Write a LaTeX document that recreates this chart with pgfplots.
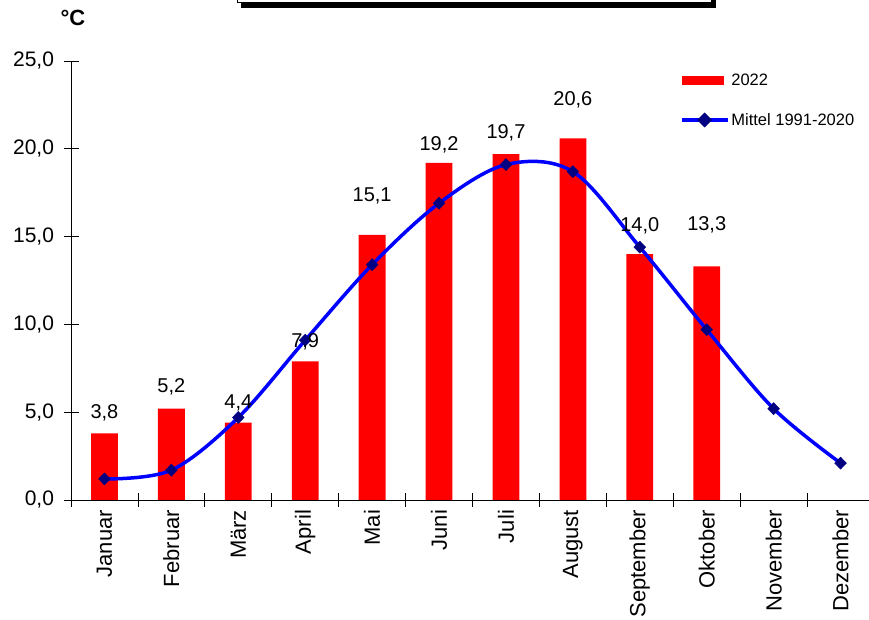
\documentclass[border=0pt]{standalone}
\usepackage{pgfplots}
\pgfplotsset{compat=1.18}
\usepackage{pgfplotstable}
\usepackage{fontspec}
\setmainfont{Liberation Sans}

\definecolor{barred}{RGB}{255,0,0}
\definecolor{lineblue}{RGB}{0,0,255}
\definecolor{markblue}{RGB}{0,0,128}

% month index, temperature 2022, position of the value label
\pgfplotstableread{
x  v     ly
0  3.8   4.95
1  5.2   6.44
2  4.4   5.52
3  7.9   9.0
4  15.1  17.3
5  19.2  20.2
6  19.7  20.9
7  20.6  22.8
8  14.0  15.6
9  13.3  15.7
}\jahrtab

% long-term monthly mean 1991-2020
\pgfplotstableread{
x  m
0  1.2
1  1.7
2  4.7
3  9.1
4  13.4
5  16.9
6  19.1
7  18.7
8  14.4
9  9.7
10 5.2
11 2.1
}\mitteltab

\begin{document}
\begin{tikzpicture}[x=1pt,y=1pt]
\useasboundingbox (0,0) rectangle (869,620);

% framed title box at the top
\fill[black] (241,612) rectangle (716,640);
\filldraw[fill=white,draw=black,line width=1pt] (237,617) rectangle (711,645);

\node[font=\bfseries\fontsize{22}{26}\selectfont] at (73,602) {°C};

\begin{axis}[
  at={(71pt,120pt)}, anchor=south west,
  scale only axis,
  width=803pt, height=439pt,
  xmin=-0.5, xmax=11.5,
  ymin=0, ymax=25,
  axis lines*=left,
  axis line style={black, line width=0.8pt},
  tick align=center,
  major tick length=15pt,
  minor tick length=14pt,
  ytick={0,5,...,25},
  xtick={0,...,11},
  xticklabels={Januar,Februar,März,April,Mai,Juni,Juli,August,September,Oktober,November,Dezember},
  major x tick style={draw=none},
  minor xtick={-0.5,0.5,...,11.5},
  minor x tick style={black, line width=0.8pt},
  ytick style={black, line width=0.8pt},
  xticklabel style={rotate=90, anchor=east, font=\fontsize{22}{26}\selectfont, xshift=1pt},
  yticklabel style={font=\fontsize{21}{25}\selectfont, xshift=-6pt},
  /pgf/number format/.cd, fixed, fixed zerofill, precision=1, use comma, assume math mode=true,
  /pgfplots/.cd,
  legend style={at={(0.758,0.975)}, anchor=north west, draw=none, fill=none,
    font=\fontsize{16.5}{20}\selectfont, row sep=22pt, inner sep=0pt,
    cells={anchor=west}},
  clip=false,
]
\addplot[ybar, bar width=0.4, fill=barred, draw=none, bar shift=0pt,
  legend image code/.code={\fill[barred] (0pt,-4.5pt) rectangle (42pt,4.5pt);}]
  table[x=x, y=v] {\jahrtab};
\addlegendentry{2022}

\addplot[lineblue, line width=3.5pt, smooth, tension=0.55,
  mark=diamond*, mark size=6pt,
  mark options={fill=markblue, draw=markblue, line width=0.5pt, xscale=1.3},
  legend image code/.code={
    \draw[lineblue, line width=3.5pt] (0pt,0pt) -- (46pt,0pt);
    \fill[markblue] (23pt,-5pt) -- (28pt,0pt) -- (23pt,5pt) -- (18pt,0pt) -- cycle;}]
  table[x=x, y=m] {\mitteltab};
\addlegendentry{Mittel 1991-2020}

% value labels of the 2022 bars
\addplot[draw=none, mark=none, forget plot,
  nodes near coords, point meta=explicit,
  nodes near coords align={anchor=center},
  every node near coord/.append style={font=\fontsize{20}{24}\selectfont, text=black, inner sep=0pt}]
  table[x=x, y=ly, meta=v] {\jahrtab};
\end{axis}
\end{tikzpicture}
\end{document}
